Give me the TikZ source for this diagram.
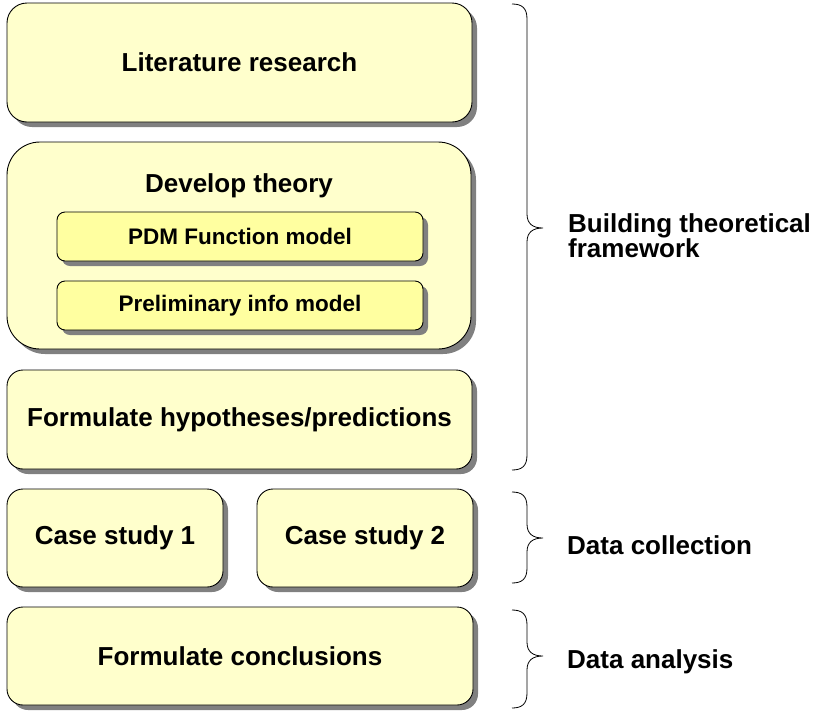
\documentclass[tikz,border=0pt]{standalone}
\usepackage{fontspec}
\setmainfont{Liberation Sans}
\usetikzlibrary{shadows}
\definecolor{boxfill}{RGB}{255,255,204}
\definecolor{innerfill}{RGB}{255,255,160}
\definecolor{shadowgray}{RGB}{128,128,128}
\tikzset{
  box/.style={draw=black, line width=0.9pt, fill=boxfill, inner sep=0pt,
    drop shadow={shadow xshift=5pt, shadow yshift=-5pt, fill=shadowgray, opacity=1},
    font=\fontsize{26}{30}\selectfont\bfseries, align=center},
  innerbox/.style={box, fill=innerfill, rounded corners=8pt,
    font=\fontsize{22.5}{26}\selectfont\bfseries},
  sidelabel/.style={anchor=base west, inner sep=0pt, align=left,
    font=\fontsize{26}{25}\selectfont\bfseries},
  bracestyle/.style={draw=black, line width=0.8pt}
}
\newcommand{\mybrace}[3]{% top, mid, bottom
  \draw[bracestyle] (512,#1) .. controls (522,#1) and (527,#1+4) .. (527,#1+15)
    -- (527,#2-14) .. controls (527,#2-4) and (533,#2) .. (543,#2)
    .. controls (533,#2) and (527,#2+4) .. (527,#2+14)
    -- (527,#3-15) .. controls (527,#3-4) and (522,#3) .. (512,#3);}
\begin{document}
\begin{tikzpicture}[x=1pt,y=-1pt]
\useasboundingbox[fill=white] (0,0) rectangle (814,710);
% boxes
\node[box, rounded corners=20pt, minimum width=465pt, minimum height=119pt] (lit) at (239.5,62.5) {Literature research};
\node[box, rounded corners=33pt, minimum width=464pt, minimum height=207pt] (dev) at (239,245.5) {};
\node[inner sep=0pt, font=\fontsize{26}{30}\selectfont\bfseries, anchor=base] (devlbl) at (239,192) {Develop theory};
\node[innerbox, minimum width=366pt, minimum height=49pt] (pdm) at (240,236.5) {PDM Function model};
\node[innerbox, minimum width=366pt, minimum height=49pt] (pre) at (240,305.5) {Preliminary info model};
\node[box, rounded corners=16pt, minimum width=465pt, minimum height=99pt] (hyp) at (239.5,419.5) {Formulate hypotheses/predictions};
\node[box, rounded corners=16pt, minimum width=216pt, minimum height=98pt] (cs1) at (115,538) {Case study 1};
\node[box, rounded corners=16pt, minimum width=216pt, minimum height=98pt] (cs2) at (365,538) {Case study 2};
\node[box, rounded corners=16pt, minimum width=466pt, minimum height=98pt] (concl) at (240,656) {Formulate conclusions};
% braces
\mybrace{4}{228}{470}
\mybrace{492}{538}{583}
\mybrace{610}{656}{708}
% labels
\node[sidelabel] (btf) at (568,257) {Building theoretical\\framework};
\node[sidelabel] (dc) at (567,554) {Data collection};
\node[sidelabel] (da) at (567,668) {Data analysis};
\end{tikzpicture}
\end{document}
